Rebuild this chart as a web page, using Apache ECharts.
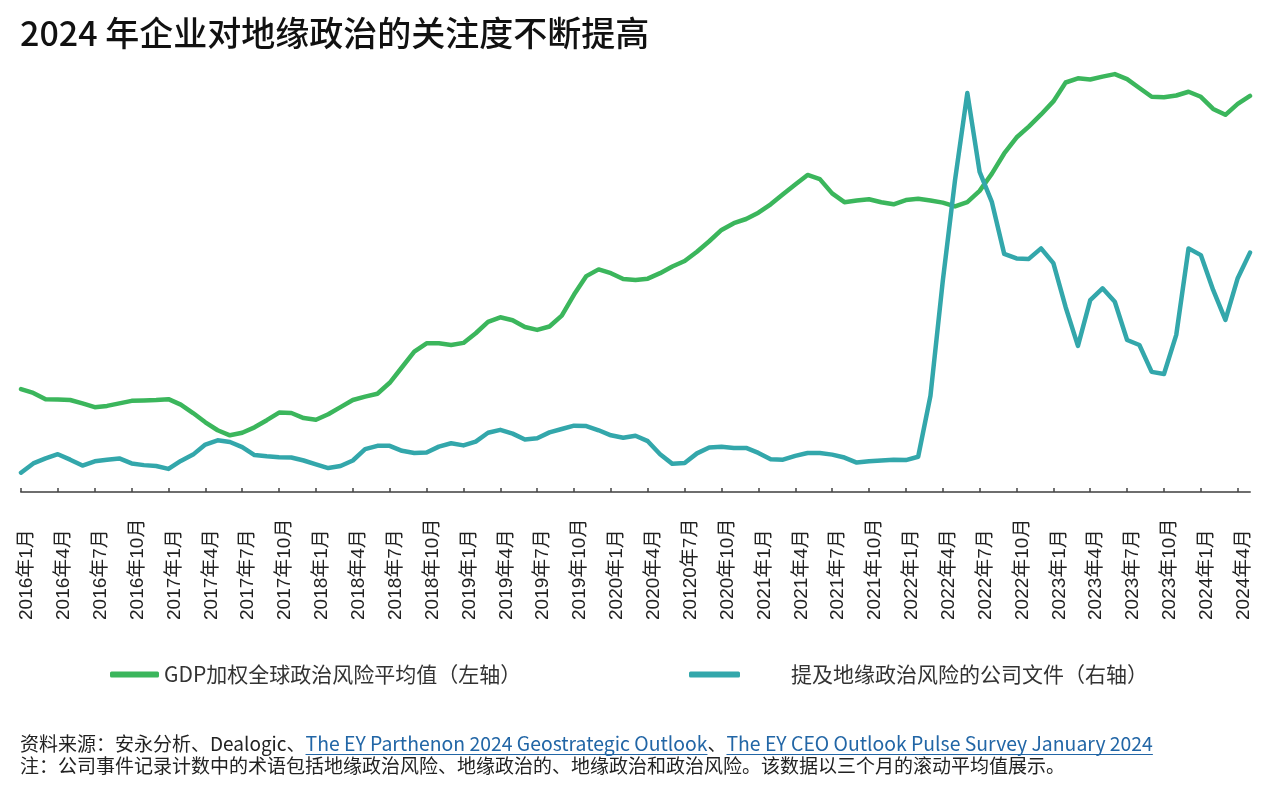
<!DOCTYPE html>
<html>
<head>
<meta charset="utf-8">
<script src="https://cdn.jsdelivr.net/npm/echarts@6/dist/echarts.min.js"></script>
<style>
html,body{margin:0;padding:0;background:#fff;}
#chart{width:1280px;height:796px;}
</style>
</head>
<body>
<div id="chart"></div>
<script>
// ---- data ----
const titleText = '2024 年企业对地缘政治的关注度不断提高';
const categories = [
  '2016年1月','2016年2月','2016年3月','2016年4月','2016年5月','2016年6月','2016年7月','2016年8月','2016年9月','2016年10月','2016年11月','2016年12月',
  '2017年1月','2017年2月','2017年3月','2017年4月','2017年5月','2017年6月','2017年7月','2017年8月','2017年9月','2017年10月','2017年11月','2017年12月',
  '2018年1月','2018年2月','2018年3月','2018年4月','2018年5月','2018年6月','2018年7月','2018年8月','2018年9月','2018年10月','2018年11月','2018年12月',
  '2019年1月','2019年2月','2019年3月','2019年4月','2019年5月','2019年6月','2019年7月','2019年8月','2019年9月','2019年10月','2019年11月','2019年12月',
  '2020年1月','2020年2月','2020年3月','2020年4月','2020年5月','2020年6月','20120年7月','2020年8月','2020年9月','2020年10月','2020年11月','2020年12月',
  '2021年1月','2021年2月','2021年3月','2021年4月','2021年5月','2021年6月','2021年7月','2021年8月','2021年9月','2021年10月','2021年11月','2021年12月',
  '2022年1月','2022年2月','2022年3月','2022年4月','2022年5月','2022年6月','2022年7月','2022年8月','2022年9月','2022年10月','2022年11月','2022年12月',
  '2023年1月','2023年2月','2023年3月','2023年4月','2023年5月','2023年6月','2023年7月','2023年8月','2023年9月','2023年10月','2023年11月','2023年12月',
  '2024年1月','2024年2月','2024年3月','2024年4月','2024年5月'
];
const seriesNames = ['GDP加权全球政治风险平均值（左轴）', '提及地缘政治风险的公司文件（右轴）'];
const politicalRisk = [
  24.5,23.6,22.1,22.0,21.9,21.1,20.2,20.5,21.1,21.7,21.8,21.9,
  22.1,20.8,18.8,16.6,14.7,13.5,14.1,15.4,17.1,18.9,18.8,17.6,
  17.2,18.5,20.2,21.9,22.7,23.4,26.0,29.7,33.4,35.4,35.4,35.0,
  35.5,37.8,40.5,41.6,40.9,39.3,38.6,39.4,42.0,47.0,51.4,53.0,
  52.1,50.7,50.5,50.8,52.1,53.7,55.0,57.2,59.7,62.4,64.0,65.0,
  66.5,68.5,70.9,73.2,75.5,74.5,71.1,69.0,69.4,69.7,69.0,68.5,
  69.5,69.8,69.4,68.9,68.0,69.0,71.7,75.8,80.6,84.4,87.0,89.9,
  93.0,97.5,98.5,98.2,98.9,99.5,98.3,96.2,94.1,94.0,94.4,95.3,
  94.1,91.2,89.8,92.4,94.3
];
const companyFilings = [
  4.6,6.8,8.0,9.0,7.7,6.3,7.3,7.7,8.0,6.8,6.4,6.2,
  5.5,7.4,8.9,11.3,12.3,11.9,10.7,8.8,8.5,8.3,8.2,7.5,
  6.6,5.7,6.2,7.5,10.2,11.0,11.0,9.8,9.3,9.4,10.8,11.6,
  11.1,12.0,14.1,14.8,13.9,12.5,12.8,14.2,15.0,15.8,15.7,14.7,
  13.5,12.9,13.4,12.1,9.0,6.7,6.9,9.2,10.6,10.8,10.5,10.5,
  9.3,7.8,7.7,8.6,9.3,9.3,8.9,8.2,7.0,7.3,7.5,7.7,
  7.6,8.4,22.9,50.2,74.3,95.0,76.2,69.0,56.7,55.6,55.5,58.0,
  54.5,44.0,34.8,45.7,48.5,45.3,36.2,35.0,28.6,28.1,37.4,58.0,
  56.4,48.1,41.0,50.9,57.0
];
const sourceSegments = [
  {text: '资料来源：安永分析、Dealogic、', link: false},
  {text: 'The EY Parthenon 2024 Geostrategic Outlook', link: true},
  {text: '、', link: false},
  {text: 'The EY CEO Outlook Pulse Survey January 2024', link: true}
];
const noteText = '注：公司事件记录计数中的术语包括地缘政治风险、地缘政治的、地缘政治和政治风险。该数据以三个月的滚动平均值展示。';

// ---- styles ----
const GREEN = '#3bb65c';
const TEAL = '#33a7ab';
const CJK = '"Noto Sans CJK SC"';
const footFont = '19px ' + CJK;
const linkFont = '19.4px ' + CJK;

const chart = echarts.init(document.getElementById('chart'), null, {renderer: 'canvas'});

// footer graphics (positions from text measurement)
const ctx = document.createElement('canvas').getContext('2d');
const graphics = [];
let fx = 20;
const fy1 = 744, fy2 = 766;
sourceSegments.forEach(seg => {
  const f = seg.link ? linkFont : footFont;
  ctx.font = f;
  const w = ctx.measureText(seg.text).width;
  graphics.push({type: 'text', x: fx, y: fy1, style: {text: seg.text, font: f, fill: seg.link ? '#2266a6' : '#222', verticalAlign: 'middle', align: 'left'}});
  if (seg.link) {
    graphics.push({type: 'line', shape: {x1: fx, y1: fy1 + 10.5, x2: fx + w, y2: fy1 + 10.5}, style: {stroke: '#2266a6', lineWidth: 1.2}});
  }
  fx += w;
});
graphics.push({type: 'text', x: 20, y: fy2, style: {text: noteText, font: footFont, fill: '#222', verticalAlign: 'middle', align: 'left'}});

const option = {
  backgroundColor: '#fff',
  animation: false,
  title: {
    text: titleText,
    left: 20, top: 12, padding: 0,
    textStyle: {fontFamily: CJK, fontSize: 34, fontWeight: 500, color: '#111', lineHeight: 42}
  },
  legend: [
    {
      data: [seriesNames[0]], left: 110, top: 664, padding: 0,
      icon: 'roundRect', itemWidth: 49, itemHeight: 6,
      textStyle: {fontFamily: CJK, fontSize: 21, color: '#333'}
    },
    {
      data: [seriesNames[1]], left: 689, top: 664, padding: 0,
      icon: 'roundRect', itemWidth: 51, itemHeight: 6,
      textStyle: {fontFamily: CJK, fontSize: 21, color: '#333', padding: [0, 0, 0, 46]}
    }
  ],
  grid: {left: 21, right: 30, top: 72, bottom: 304, containLabel: false},
  xAxis: {
    type: 'category', data: categories, boundaryGap: false,
    axisLine: {lineStyle: {color: '#6e6e6e', width: 2}},
    axisTick: {show: true, inside: true, length: 4, interval: 2, lineStyle: {color: '#444', width: 1.5}},
    axisLabel: {
      interval: 2, rotate: 90, align: 'left', verticalAlign: 'top', lineHeight: 12, margin: 128,
      fontFamily: '"Liberation Sans", ' + CJK, fontSize: 19, color: '#222'
    },
    splitLine: {show: false}
  },
  yAxis: [
    {type: 'value', min: 0, max: 100, show: false},
    {type: 'value', min: 0, max: 100, show: false}
  ],
  series: [
    {
      name: seriesNames[0], type: 'line', data: politicalRisk, yAxisIndex: 0,
      symbol: 'none', smooth: false, color: GREEN,
      lineStyle: {color: GREEN, width: 4.5, cap: 'round', join: 'round'}
    },
    {
      name: seriesNames[1], type: 'line', data: companyFilings, yAxisIndex: 1,
      symbol: 'none', smooth: false, color: TEAL,
      lineStyle: {color: TEAL, width: 4.5, cap: 'round', join: 'round'}
    }
  ],
  graphic: graphics
};
chart.setOption(option);
</script>
</body>
</html>
